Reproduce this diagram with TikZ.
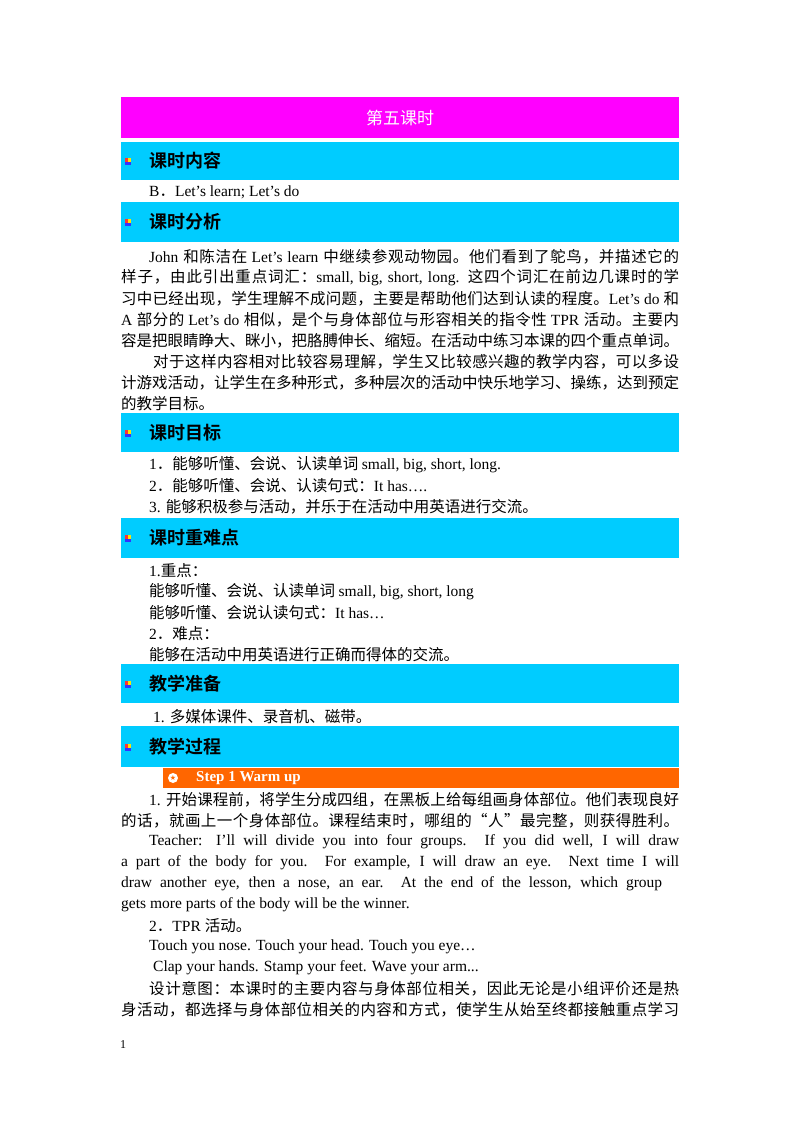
\documentclass[tikz,border=0pt]{standalone}
\usepackage{fontspec}
\setmainfont{Liberation Serif}
\newfontfamily\cjk{Noto Sans CJK SC}
\newfontfamily\cjkb{Noto Sans CJK SC Bold}
\newfontfamily\sym{DejaVu Sans}
\newXeTeXintercharclass\cjkcls
\newcount\cc
\cc="4E00 \loop \XeTeXcharclass\cc=\cjkcls \ifnum\cc<"9FFF \advance\cc by 1 \repeat
\cc="3000 \loop \XeTeXcharclass\cc=\cjkcls \ifnum\cc<"303F \advance\cc by 1 \repeat
\cc="FF00 \loop \XeTeXcharclass\cc=\cjkcls \ifnum\cc<"FFEF \advance\cc by 1 \repeat
\XeTeXcharclass"201C=\cjkcls \XeTeXcharclass"201D=\cjkcls
\XeTeXinterchartoks 0 \cjkcls = {\cjk}
\XeTeXinterchartoks 4095 \cjkcls = {\cjk}
\XeTeXinterchartoks \cjkcls 0 = {\rmfamily}
\XeTeXinterchartoks 4095 0 = {\rmfamily}
\XeTeXinterchartoks \cjkcls \cjkcls = {\hskip0pt plus 1.5pt\relax}
\definecolor{mag}{RGB}{255,0,255}
\definecolor{cyanb}{RGB}{0,204,255}
\definecolor{orng}{RGB}{255,102,0}
\newcommand\fl[4]{\node[anchor=west,inner sep=0pt] (#1) at (#2,#3) {\parbox{\dimexpr679pt-#2pt\relax}{\fontsize{15.5}{21}\selectfont\XeTeXinterchartokenstate=1 \parfillskip=0pt\relax #4}};}
\newcommand\nl[4]{\node[anchor=west,inner sep=0pt] (#1) at (#2,#3) {\fontsize{15.5}{21}\selectfont\XeTeXinterchartokenstate=1 #4};}
\newcommand\hd[3]{\fill[cyanb] (121,#2) rectangle (679,#3);
 \fill[red!80] (124.5,{(#2+#3)/2-3}) rectangle (127.5,{(#2+#3)/2+1});
 \fill[yellow!90!orange] (127.5,{(#2+#3)/2-3}) rectangle (130.5,{(#2+#3)/2+1});
 \fill[blue!80] (124.5,{(#2+#3)/2+1}) rectangle (130.5,{(#2+#3)/2+4});
 \node[anchor=west,inner sep=0pt,font=\cjkb\fontsize{18}{20}\selectfont] at (149,{(#2+#3)/2}) {#1};}
\begin{document}
\begin{tikzpicture}[x=1pt,y=-1pt]
\useasboundingbox[fill=white] (0,0) rectangle (800,1132);
\fill[mag] (121,97) rectangle (679,138);
\node[text=white,font=\cjk\fontsize{17}{20}\selectfont] (title) at (400,118) {第五课时};
\hd{课时内容}{142}{180}
\nl{a1}{149}{192}{B．Let’s learn; Let’s do}
\hd{课时分析}{202}{242}
\fl{b1}{149}{257}{John 和陈洁在 Let’s learn 中继续参观动物园。他们看到了鸵鸟，并描述它的}
\fl{b2}{121}{278}{样子，由此引出重点词汇：small, big, short, long. 这四个词汇在前边几课时的学}
\fl{b3}{121}{299}{习中已经出现，学生理解不成问题，主要是帮助他们达到认读的程度。Let’s do 和}
\fl{b4}{121}{320}{A 部分的 Let’s do 相似，是个与身体部位与形容相关的指令性 TPR 活动。主要内}
\fl{b5}{121}{341}{容是把眼睛睁大、眯小，把胳膊伸长、缩短。在活动中练习本课的四个重点单词。}
\fl{b6}{153}{362}{对于这样内容相对比较容易理解，学生又比较感兴趣的教学内容，可以多设}
\fl{b7}{121}{383}{计游戏活动，让学生在多种形式，多种层次的活动中快乐地学习、操练，达到预定}
\nl{b8}{121}{404}{的教学目标。}
\hd{课时目标}{413}{452}
\nl{c1}{149}{465}{1．能够听懂、会说、认读单词 small, big, short, long.}
\nl{c2}{149}{486}{2．能够听懂、会说、认读句式：It has….}
\nl{c3}{149}{507}{3. 能够积极参与活动，并乐于在活动中用英语进行交流。}
\hd{课时重难点}{518}{558}
\nl{d1}{149}{571}{1.重点：}
\nl{d2}{149}{592}{能够听懂、会说、认读单词 small, big, short, long}
\nl{d3}{149}{613}{能够听懂、会说认读句式：It has…}
\nl{d4}{149}{634}{2．难点：}
\nl{d5}{149}{655}{能够在活动中用英语进行正确而得体的交流。}
\hd{教学准备}{664}{703}
\nl{e1}{153}{717}{1. 多媒体课件、录音机、磁带。}
\hd{教学过程}{726}{767}
\fill[orng] (163,768) rectangle (679,788);
\fill[white] (173,778) circle (5);
\node[text=orng,inner sep=0pt,font=\sym\fontsize{7}{7}\selectfont] (star) at (173,778) {★};
\node[anchor=west,inner sep=0pt,text=white,font=\bfseries\fontsize{15}{18}\selectfont] (step) at (196,778) {Step 1 Warm up};
\fl{f1}{149}{800}{1. 开始课程前，将学生分成四组，在黑板上给每组画身体部位。他们表现良好}
\fl{f2}{121}{821}{的话，就画上一个身体部位。课程结束时，哪组的“人”最完整，则获得胜利。}
\fl{f3}{149}{842}{Teacher: I’ll will divide you into four groups. If you did well, I will draw}
\fl{f4}{121}{863}{a part of the body for you. For example, I will draw an eye. Next time I will}
\node[anchor=west,inner sep=0pt] (f5) at (121,884) {\parbox{541pt}{\fontsize{15.5}{21}\selectfont\parfillskip=0pt\relax draw another eye, then a nose, an ear. At the end of the lesson, which group}};
\nl{f6}{121}{905}{gets more parts of the body will be the winner.}
\nl{f7}{149}{926}{2．TPR 活动。}
\nl{f8}{149}{947}{Touch you nose. Touch your head. Touch you eye…}
\nl{f9}{153}{968}{Clap your hands. Stamp your feet. Wave your arm...}
\fl{f10}{149}{989}{设计意图：本课时的主要内容与身体部位相关，因此无论是小组评价还是热}
\fl{f11}{121}{1010}{身活动，都选择与身体部位相关的内容和方式，使学生从始至终都接触重点学习}
\node[anchor=west,inner sep=0pt,font=\fontsize{12}{14}\selectfont] (pg) at (120,1045) {1};
\end{tikzpicture}
\end{document}
